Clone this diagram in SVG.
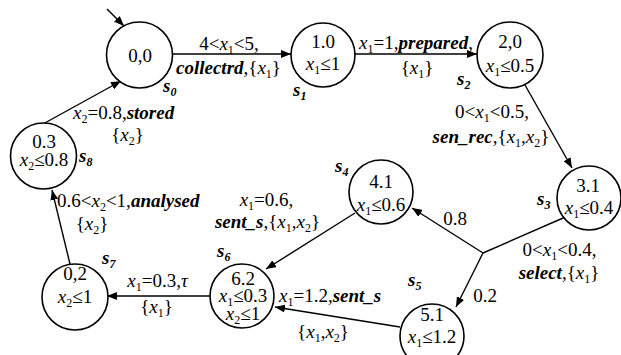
<svg xmlns="http://www.w3.org/2000/svg" width="621" height="355" viewBox="0 0 621 355" font-family="'Liberation Serif', 'Times New Roman', 'DejaVu Serif', serif" font-size="19">
<defs>
<marker id="ah" viewBox="0 0 10 8" refX="10" refY="4" markerWidth="10" markerHeight="8" markerUnits="userSpaceOnUse" orient="auto">
<path d="M0,0 L10,4 L0,8 z" fill="#000"/>
</marker>
<style>
text{font-family:'Liberation Serif','Times New Roman','DejaVu Serif',serif;font-size:19px;fill:#000}
.m{text-anchor:middle}
.i{font-style:italic}
.b{font-style:italic;font-weight:bold}
.s{font-size:12px}
circle{fill:#fff;stroke:#000;stroke-width:1.6}
#edges line{stroke:#000;stroke-width:1.4;fill:none}
</style>
</defs>
<rect width="621" height="355" fill="#fff"/>
<g id="edges">
<line x1="107" y1="9" x2="124" y2="26" marker-end="url(#ah)"/>
<line x1="172.5" y1="54" x2="291" y2="54" marker-end="url(#ah)"/>
<line x1="355" y1="54" x2="477" y2="54" marker-end="url(#ah)"/>
<line x1="525" y1="85" x2="572" y2="168" marker-end="url(#ah)"/>
<line x1="570" y1="215" x2="483" y2="253"/>
<line x1="483" y1="253" x2="412" y2="208" marker-end="url(#ah)"/>
<line x1="483" y1="253" x2="456" y2="307" marker-end="url(#ah)"/>
<line x1="355" y1="213" x2="266" y2="269" marker-end="url(#ah)"/>
<line x1="400" y1="327" x2="275" y2="307" marker-end="url(#ah)"/>
<line x1="210" y1="296" x2="107" y2="296" marker-end="url(#ah)"/>
<line x1="70" y1="264" x2="52" y2="190" marker-end="url(#ah)"/>
<line x1="43" y1="124" x2="121" y2="81" marker-end="url(#ah)"/>
</g>
<g id="edge-labels">
<text class="m" x="229" y="50">4&lt;<tspan class="i">x</tspan><tspan class="s" dy="4">1</tspan><tspan dy="-4">&lt;5,</tspan></text>
<text class="m" x="228.5" y="74"><tspan class="b">collectrd</tspan>,{<tspan class="i">x</tspan><tspan class="s" dy="4">1</tspan><tspan dy="-4">}</tspan></text>
<text class="m" x="416" y="49"><tspan class="i">x</tspan><tspan class="s" dy="4">1</tspan><tspan dy="-4">=1,</tspan><tspan class="b">prepared</tspan>,</text>
<text class="m" x="417" y="74">{<tspan class="i">x</tspan><tspan class="s" dy="4">1</tspan><tspan dy="-4">}</tspan></text>
<text class="m" x="492" y="118">0&lt;<tspan class="i">x</tspan><tspan class="s" dy="4">1</tspan><tspan dy="-4">&lt;0.5,</tspan></text>
<text class="m" x="491" y="143"><tspan class="b">sen_rec</tspan>,{<tspan class="i">x</tspan><tspan class="s" dy="4">1</tspan><tspan dy="-4">,</tspan><tspan class="i">x</tspan><tspan class="s" dy="4">2</tspan><tspan dy="-4">}</tspan></text>
<text class="m" x="559.5" y="256">0&lt;<tspan class="i">x</tspan><tspan class="s" dy="4">1</tspan><tspan dy="-4">&lt;0.4,</tspan></text>
<text class="m" x="559" y="279"><tspan class="b">select</tspan>,{<tspan class="i">x</tspan><tspan class="s" dy="4">1</tspan><tspan dy="-4">}</tspan></text>
<text class="m" x="455" y="225">0.8</text>
<text class="m" x="485" y="302">0.2</text>
<text x="279" y="302"><tspan class="i">x</tspan><tspan class="s" dy="4">1</tspan><tspan dy="-4">=1.2,</tspan><tspan class="b">sent_s</tspan></text>
<text class="m" x="323" y="338">{<tspan class="i">x</tspan><tspan class="s" dy="4">1</tspan><tspan dy="-4">,</tspan><tspan class="i">x</tspan><tspan class="s" dy="4">2</tspan><tspan dy="-4">}</tspan></text>
<text class="m" x="266.5" y="206"><tspan class="i">x</tspan><tspan class="s" dy="4">1</tspan><tspan dy="-4">=0.6,</tspan></text>
<text class="m" x="267.5" y="228"><tspan class="b">sent_s</tspan>,{<tspan class="i">x</tspan><tspan class="s" dy="4">1</tspan><tspan dy="-4">,</tspan><tspan class="i">x</tspan><tspan class="s" dy="4">2</tspan><tspan dy="-4">}</tspan></text>
<text class="m" x="157.5" y="287"><tspan class="i">x</tspan><tspan class="s" dy="4">1</tspan><tspan dy="-4">=0.3,</tspan><tspan class="i">τ</tspan></text>
<text class="m" x="156.5" y="313">{<tspan class="i">x</tspan><tspan class="s" dy="4">1</tspan><tspan dy="-4">}</tspan></text>
<text x="57" y="207">0.6&lt;<tspan class="i">x</tspan><tspan class="s" dy="4">2</tspan><tspan dy="-4">&lt;1,</tspan><tspan class="b">analysed</tspan></text>
<text class="m" x="92" y="230">{<tspan class="i">x</tspan><tspan class="s" dy="4">2</tspan><tspan dy="-4">}</tspan></text>
<text x="73" y="119"><tspan class="i">x</tspan><tspan class="s" dy="4">2</tspan><tspan dy="-4">=0.8,</tspan><tspan class="b">stored</tspan></text>
<text class="m" x="127.5" y="141">{<tspan class="i">x</tspan><tspan class="s" dy="4">2</tspan><tspan dy="-4">}</tspan></text>
</g>
<g id="s0">
<circle cx="139.5" cy="55" r="33"/>
<text class="m" x="140" y="62">0,0</text>
<text x="163" y="92"><tspan class="b">s</tspan><tspan class="s b" dy="4">0</tspan></text>
</g>
<g id="s1">
<circle cx="323" cy="55" r="32"/>
<text class="m" x="323" y="48">1.0</text>
<text class="m" x="323" y="70"><tspan class="i">x</tspan><tspan class="s" dy="4">1</tspan><tspan dy="-4">≤1</tspan></text>
<text x="293" y="96"><tspan class="b">s</tspan><tspan class="s b" dy="4">1</tspan></text>
</g>
<g id="s2">
<circle cx="510" cy="55" r="33"/>
<text class="m" x="510" y="48">2,0</text>
<text class="m" x="510" y="72"><tspan class="i">x</tspan><tspan class="s" dy="4">1</tspan><tspan dy="-4">≤0.5</tspan></text>
<text x="457" y="85"><tspan class="b">s</tspan><tspan class="s b" dy="4">2</tspan></text>
</g>
<g id="s3">
<circle cx="589" cy="198" r="32"/>
<text class="m" x="588" y="192">3.1</text>
<text class="m" x="589" y="214"><tspan class="i">x</tspan><tspan class="s" dy="4">1</tspan><tspan dy="-4">≤0.4</tspan></text>
<text x="537" y="205"><tspan class="b">s</tspan><tspan class="s b" dy="4">3</tspan></text>
</g>
<g id="s4">
<circle cx="381" cy="192" r="32"/>
<text class="m" x="381" y="188">4.1</text>
<text class="m" x="381" y="211"><tspan class="i">x</tspan><tspan class="s" dy="4">1</tspan><tspan dy="-4">≤0.6</tspan></text>
<text x="335" y="172"><tspan class="b">s</tspan><tspan class="s b" dy="4">4</tspan></text>
</g>
<g id="s5">
<circle cx="432" cy="336" r="32"/>
<text class="m" x="432" y="321">5.1</text>
<text class="m" x="432" y="343"><tspan class="i">x</tspan><tspan class="s" dy="4">1</tspan><tspan dy="-4">≤1.2</tspan></text>
<text x="408" y="286"><tspan class="b">s</tspan><tspan class="s b" dy="4">5</tspan></text>
</g>
<g id="s6">
<circle cx="242" cy="296" r="32"/>
<text class="m" x="243" y="285">6.2</text>
<text class="m" x="243" y="302"><tspan class="i">x</tspan><tspan class="s" dy="4">1</tspan><tspan dy="-4">≤0.3</tspan></text>
<text class="m" x="243" y="320"><tspan class="i">x</tspan><tspan class="s" dy="4">2</tspan><tspan dy="-4">≤1</tspan></text>
<text x="217" y="257"><tspan class="b">s</tspan><tspan class="s b" dy="4">6</tspan></text>
</g>
<g id="s7">
<circle cx="75" cy="297" r="33"/>
<text class="m" x="75" y="280">0,2</text>
<text class="m" x="75" y="303"><tspan class="i">x</tspan><tspan class="s" dy="4">2</tspan><tspan dy="-4">≤1</tspan></text>
<text x="102" y="264"><tspan class="b">s</tspan><tspan class="s b" dy="4">7</tspan></text>
</g>
<g id="s8">
<circle cx="43.5" cy="156" r="33"/>
<text class="m" x="44" y="148">0.3</text>
<text class="m" x="44" y="166"><tspan class="i">x</tspan><tspan class="s" dy="4">2</tspan><tspan dy="-4">≤0.8</tspan></text>
<text x="79" y="162"><tspan class="b">s</tspan><tspan class="s b" dy="4">8</tspan></text>
</g>
</svg>
